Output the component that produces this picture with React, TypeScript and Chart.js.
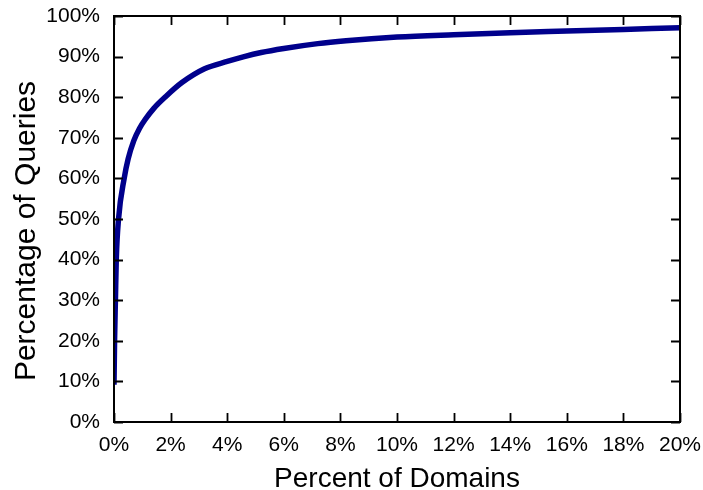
import React, { useEffect, useRef } from "react";
import { Chart, registerables } from "chart.js";

Chart.register(...registerables);

// Percent of domains (x) vs. cumulative percentage of queries (y)
const domainPct = [0, 0.02, 0.05, 0.08, 0.16, 0.36, 0.5, 0.7, 0.9, 1.1, 1.4, 1.85, 2.4, 3.2, 4.0, 4.6, 5.2, 6.0, 7.2, 8.2, 10, 12, 14, 16, 18, 20];
const queryPct = [9.2, 20, 30, 40, 50, 60, 64.8, 69.3, 72.3, 74.5, 77.2, 80.3, 83.6, 87, 88.8, 90, 91, 92, 93.2, 93.9, 94.8, 95.4, 95.9, 96.3, 96.7, 97.1];

const xTitle = "Percent of Domains";
const yTitle = "Percentage of Queries";
const FONT = '"Liberation Sans", Arial, sans-serif';

const framePlugin = {
  id: "gnuFrame",
  afterDraw(chart: any) {
    const { ctx, chartArea } = chart;
    const { left, right, top, bottom } = chartArea;
    const xs = chart.scales.x;
    const ys = chart.scales.y;
    const tl = 9;
    ctx.save();
    ctx.strokeStyle = "#000";
    ctx.lineWidth = 1.8;
    ctx.beginPath();
    xs.ticks.forEach((t: any) => {
      const px = Math.round(xs.getPixelForValue(t.value)) + 0.5;
      ctx.moveTo(px, bottom);
      ctx.lineTo(px, bottom - tl);
      ctx.moveTo(px, top);
      ctx.lineTo(px, top + tl);
    });
    ys.ticks.forEach((t: any) => {
      const py = Math.round(ys.getPixelForValue(t.value)) + 0.5;
      ctx.moveTo(left, py);
      ctx.lineTo(left + tl, py);
      ctx.moveTo(right, py);
      ctx.lineTo(right - tl, py);
    });
    ctx.stroke();
    ctx.lineWidth = 2;
    ctx.strokeRect(left, top, right - left, bottom - top);
    ctx.fillStyle = "#000";
    ctx.font = "28px " + FONT;
    ctx.textAlign = "center";
    ctx.textBaseline = "alphabetic";
    ctx.fillText(xTitle, (left + right) / 2, 487);
    ctx.save();
    ctx.translate(35, 231);
    ctx.rotate(-Math.PI / 2);
    ctx.font = "30px " + FONT;
    ctx.fillText(yTitle, 0, 0);
    ctx.restore();
    ctx.restore();
  },
};

export default function App() {
  const ref = useRef<HTMLCanvasElement>(null);
  useEffect(() => {
    if (!ref.current) return;
    const data = domainPct.map((x, i) => ({ x, y: queryPct[i] }));
    const chart = new Chart(ref.current, {
      type: "line",
      data: {
        datasets: [
          {
            data,
            borderColor: "#00008c",
            backgroundColor: "#00008c",
            borderWidth: 5.5,
            pointRadius: 0,
            cubicInterpolationMode: "monotone",
            fill: false,
          },
        ],
      },
      options: {
        animation: false,
        responsive: false,
        events: [],
        layout: { padding: { top: 16, right: 23, left: 0, bottom: 0 } },
        plugins: { legend: { display: false }, tooltip: { enabled: false } },
        scales: {
          x: {
            type: "linear",
            min: 0,
            max: 20,
            grid: { display: false, drawTicks: false },
            border: { display: false },
            ticks: {
              stepSize: 2,
              padding: 11,
              color: "#000",
              font: { size: 21, family: FONT },
              maxRotation: 0,
              callback: (v: any) => v + "%",
            },
            afterFit: (s: any) => {
              s.height = 68;
              s.paddingLeft = 0;
              s.paddingRight = 0;
            },
          },
          y: {
            min: 0,
            max: 100,
            grid: { display: false, drawTicks: false },
            border: { display: false },
            ticks: {
              stepSize: 10,
              padding: 14,
              color: "#000",
              font: { size: 21, family: FONT },
              callback: (v: any) => v + "%",
            },
            afterFit: (s: any) => {
              s.width = 114;
              s.paddingTop = 0;
              s.paddingBottom = 0;
            },
          },
        },
      },
      plugins: [framePlugin],
    });
    return () => chart.destroy();
  }, []);
  return (
    <div style={{ position: "absolute", left: 0, top: 0, width: 703, height: 490, background: "#fff" }}>
      <canvas ref={ref} width={703} height={490} style={{ width: 703, height: 490 }} />
    </div>
  );
}
